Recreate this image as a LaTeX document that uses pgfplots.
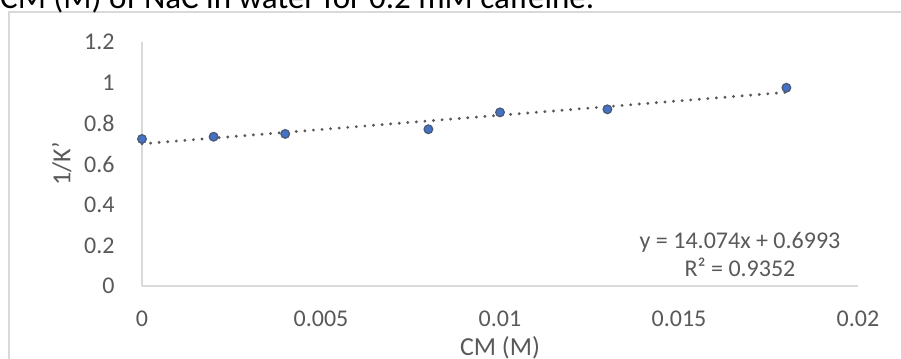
\documentclass[border=0pt]{standalone}
\usepackage{fontspec}
\setmainfont{Carlito}
\usepackage{pgfplots}
\pgfplotsset{compat=1.18}
\definecolor{txt}{HTML}{595959}
\definecolor{axl}{HTML}{D9D9D9}
\definecolor{mk}{HTML}{4472C4}
\definecolor{mkedge}{HTML}{4A5A78}
\begin{document}
\begin{tikzpicture}[x=1bp,y=1bp]
\clip (-142,-72) rectangle (759,286);
\draw[axl, line width=1.2bp] (-133,-90) -- (-133,274) -- (800,274);
\node[anchor=base west, inner sep=0pt, font=\fontsize{33bp}{38bp}\selectfont] at (-142,277.5) {CM (M) of NaC in water for 0.2 mM caffeine.};
\begin{axis}[
  at={(0,0)}, anchor=south west,
  scale only axis, width=716bp, height=244bp,
  xmin=0, xmax=0.02, ymin=0, ymax=1.2,
  axis lines*=left,
  axis line style={draw=axl, line width=1.2bp},
  major tick length=0pt,
  scaled x ticks=false, scaled y ticks=false,
  xtick={0,0.005,0.01,0.015,0.02},
  xticklabels={0,0.005,0.01,0.015,0.02},
  ytick={0,0.2,0.4,0.6,0.8,1,1.2},
  yticklabels={0,0.2,0.4,0.6,0.8,1,1.2},
  ticklabel style={font=\fontsize{24bp}{28bp}\selectfont, text=txt},
  xticklabel style={yshift=-21bp},
  yticklabel style={xshift=-24bp},
  xlabel={CM (M)}, ylabel={1/K'},
  label style={font=\fontsize{26bp}{30bp}\selectfont, text=txt},
  xlabel style={at={(axis description cs:0.5,-0.254)}, anchor=center},
  ylabel style={at={(axis description cs:-0.112,0.5)}, anchor=center, rotate=0},
  clip=false,
]
\addplot[only marks, mark=*, mark size=4.3bp, mark options={fill=mk, draw=mkedge, line width=1.3bp}]
  coordinates {(0,0.723) (0.002,0.734) (0.004,0.748) (0.008,0.771) (0.010,0.854) (0.013,0.869) (0.018,0.975)};
\addplot[txt, line width=3.2bp, line cap=round, dash pattern=on 0bp off 8.6bp]
  coordinates {(0,0.6993) (0.018,0.9526)};
\node[align=center, text=txt, font=\fontsize{24bp}{28bp}\selectfont] at (axis cs:0.016704,0.1574) {y = 14.074x + 0.6993\\R² = 0.9352};
\end{axis}
\end{tikzpicture}
\end{document}
